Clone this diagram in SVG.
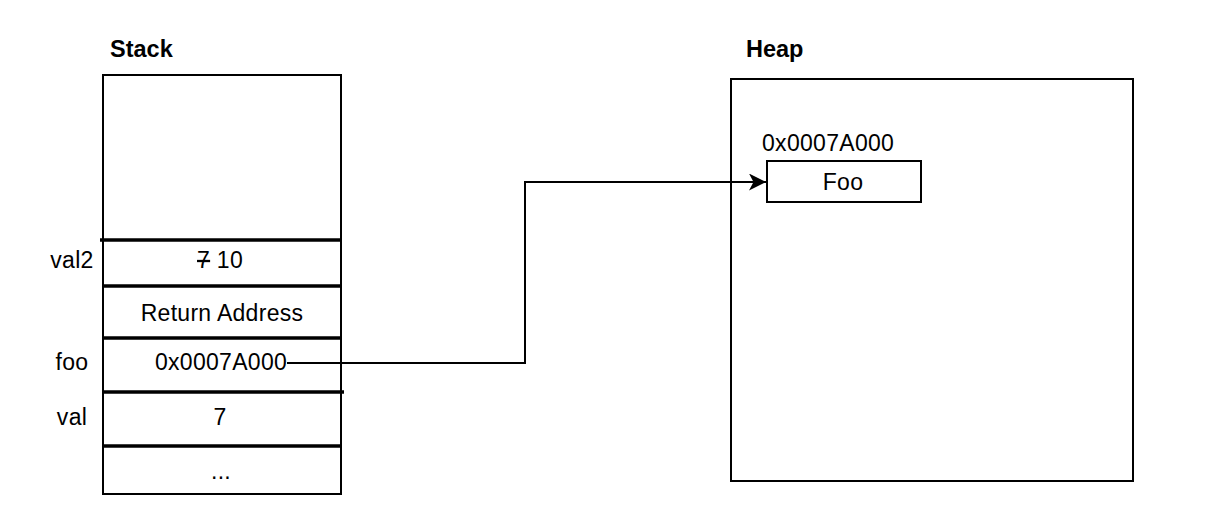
<svg xmlns="http://www.w3.org/2000/svg" width="1232" height="522" viewBox="0 0 1232 522">
<style>
text{font-family:"Liberation Sans",Arial,Helvetica,sans-serif;font-size:23px;letter-spacing:0.3px;fill:#000}
.t{font-weight:bold;font-size:23.5px;letter-spacing:0}
.c{text-anchor:middle}
.box{fill:#fff;stroke:#000;stroke-width:2}
.sep{stroke:#000;stroke-width:3.5}
.edge{fill:none;stroke:#000;stroke-width:2}
</style>
<defs>
<marker id="arr" markerWidth="18" markerHeight="18" refX="17" refY="8.5" orient="auto" markerUnits="userSpaceOnUse">
<path d="M0,0 L17,8.5 L0,17 L4.5,8.5 Z" fill="#000"/>
</marker>
</defs>
<g id="stack">
<text class="t" x="110" y="57">Stack</text>
<rect class="box" x="103" y="75" width="238" height="419"/>
<line class="sep" x1="100" y1="240" x2="341" y2="240"/>
<line class="sep" x1="103" y1="286" x2="341" y2="286"/>
<line class="sep" x1="103" y1="338" x2="341" y2="338"/>
<line class="sep" x1="103" y1="392" x2="344" y2="392"/>
<line class="sep" x1="103" y1="446" x2="341" y2="446"/>
</g>
<g id="val2">
<text class="c" x="72" y="268">val2</text>
<text class="c" x="220" y="268"><tspan text-decoration="line-through">7</tspan> 10</text>
</g>
<g id="retaddr">
<text class="c" x="222" y="321">Return Address</text>
</g>
<g id="foo">
<text class="c" x="72" y="370">foo</text>
<text class="c" x="221" y="370">0x0007A000</text>
</g>
<g id="val">
<text class="c" x="72" y="425">val</text>
<text class="c" x="220" y="425">7</text>
</g>
<g id="more">
<text class="c" x="221" y="479">...</text>
</g>
<g id="heap">
<text class="t" x="746" y="57">Heap</text>
<rect class="box" x="731" y="79" width="402" height="402"/>
</g>
<g id="fooobj">
<text x="762" y="151">0x0007A000</text>
<rect class="box" x="767" y="161" width="154" height="41"/>
<text class="c" x="843" y="190">Foo</text>
</g>
<g id="connectors">
<path class="edge" d="M287,363 H525 V182 H766" marker-end="url(#arr)"/>
</g>
</svg>
